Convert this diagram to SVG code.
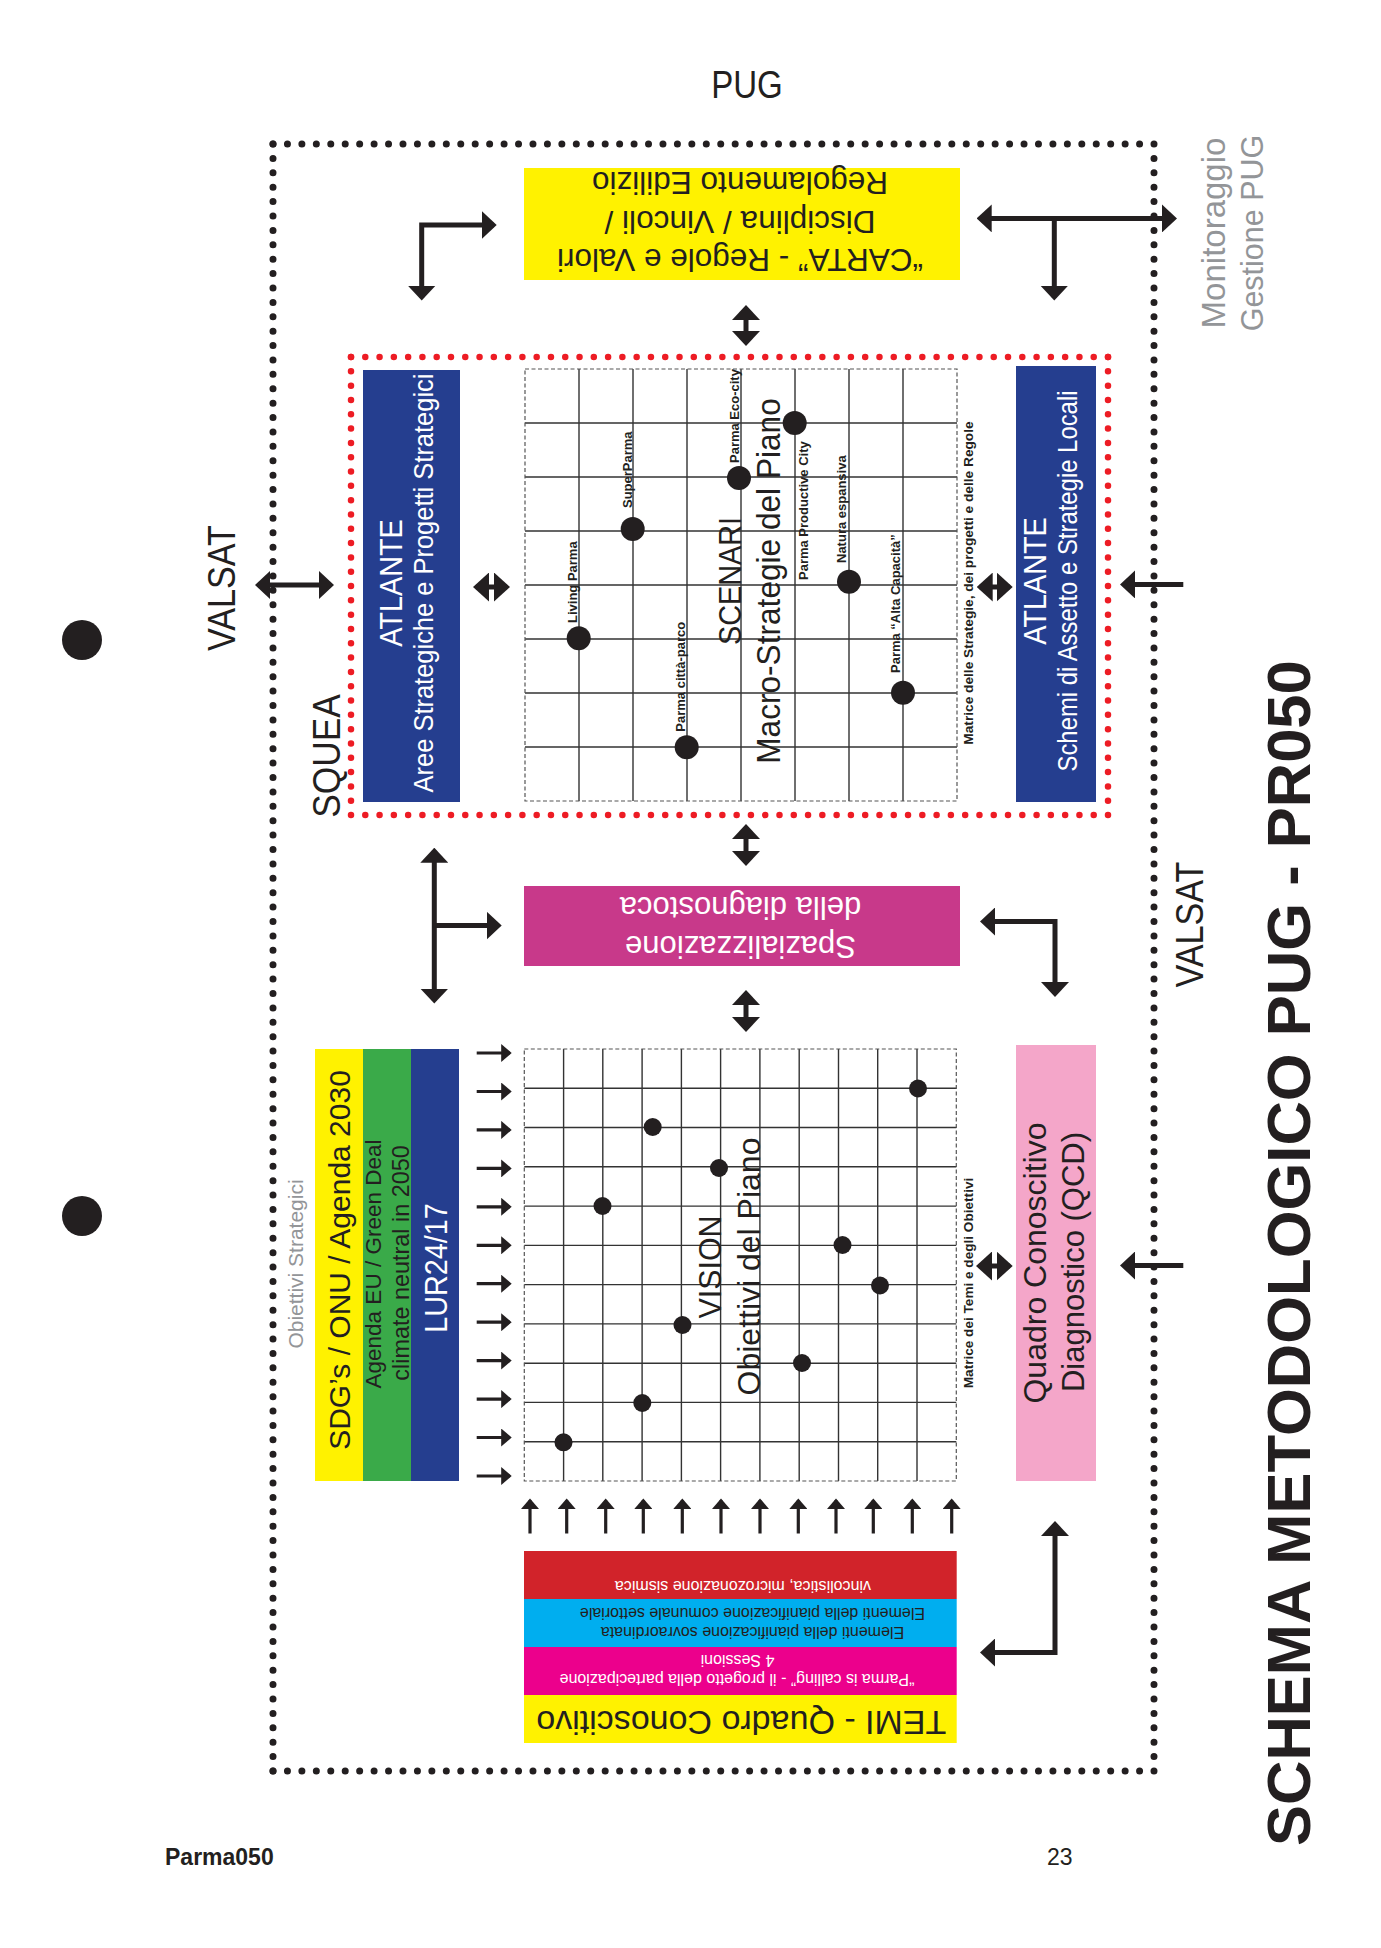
<svg xmlns="http://www.w3.org/2000/svg" width="1381" height="1948" viewBox="0 0 1381 1948">
<defs>
<style>
text{font-family:"Liberation Sans",Arial,Helvetica,sans-serif;}
.dk{fill:#231f20}
.wh{fill:#ffffff}
.gy{fill:#939598}
.b{font-weight:bold}
.m{text-anchor:middle}
.conn{fill:none;stroke:#231f20;stroke-width:5}
.sm{fill:none;stroke:#231f20;stroke-width:3.2}
.gl{fill:none;stroke:#333333;stroke-width:1.4}
.gf{fill:none;stroke:#555555;stroke-width:1.2;stroke-dasharray:4 2.5}
.bd{fill:none;stroke:#231f20;stroke-width:7;stroke-linecap:round}
.rd{fill:none;stroke:#ed1c24;stroke-width:6.5;stroke-linecap:round}
.dot{fill:#231f20}
</style>
<marker id="ah" viewBox="0 0 15 28" refX="12" refY="14" markerWidth="15" markerHeight="28" markerUnits="userSpaceOnUse" orient="auto-start-reverse"><path d="M0,0L15,14L0,28Z" fill="#231f20"/></marker>
<marker id="am" viewBox="0 0 16 29" refX="13" refY="14.5" markerWidth="16" markerHeight="29" markerUnits="userSpaceOnUse" orient="auto-start-reverse"><path d="M0,0L16,14.5L0,29Z" fill="#231f20"/></marker>
<marker id="as" viewBox="0 0 10.5 18" refX="8.5" refY="9" markerWidth="10.5" markerHeight="18" markerUnits="userSpaceOnUse" orient="auto"><path d="M0,0L10.5,9L0,18Z" fill="#231f20"/></marker>
</defs>
<rect x="0" y="0" width="1381" height="1948" fill="#ffffff"/>

<g id="title-pug"><text class="dk m" font-size="38" transform="translate(747 98) scale(0.87 1)">PUG</text></g>

<g id="frame-pug">
<path class="bd" d="M273,144H1154" stroke-dasharray="0 14.443"/>
<path class="bd" d="M1154,144V1771" stroke-dasharray="0 14.398"/>
<path class="bd" d="M273,1771H1154" stroke-dasharray="0 14.443"/>
<path class="bd" d="M273,144V1771" stroke-dasharray="0 14.398"/>
</g>

<g id="frame-squea">
<path class="rd" d="M351,357H1108" stroke-dasharray="0 14.283"/>
<path class="rd" d="M1108,357V815" stroke-dasharray="0 14.3125"/>
<path class="rd" d="M351,815H1108" stroke-dasharray="0 14.283"/>
<path class="rd" d="M351,357V815" stroke-dasharray="0 14.3125"/>
</g>

<g id="bullets">
<circle class="dot" cx="82" cy="640" r="20"/>
<circle class="dot" cx="82" cy="1216" r="20"/>
</g>

<g id="label-valsat-left"><text class="dk m" font-size="38" transform="translate(235 588) rotate(-90) scale(0.9 1)">VALSAT</text></g>
<g id="label-valsat-right"><text class="dk m" font-size="38" transform="translate(1203 924.5) rotate(-90) scale(0.9 1)">VALSAT</text></g>
<g id="label-squea"><text class="dk m" font-size="38" transform="translate(340 756) rotate(-90) scale(0.93 1)">SQUEA</text></g>
<g id="label-monitoraggio">
<text class="gy m" font-size="33" transform="translate(1225 233) rotate(-90)">Monitoraggio</text>
<text class="gy m" font-size="30.5" transform="translate(1263 233) rotate(-90)">Gestione PUG</text>
</g>

<g id="node-carta">
<rect x="524" y="168" width="436" height="112" fill="#fff200"/>
<text class="dk m" font-size="31.5" x="740" y="249" transform="rotate(180 740 249)">“CARTA” - Regole e Valori</text>
<text class="dk m" font-size="31.5" x="740" y="211" transform="rotate(180 740 211)">Disciplina / Vincoli /</text>
<text class="dk m" font-size="31.5" x="740" y="172" transform="rotate(180 740 172)">Regolamento Edilizio</text>
</g>

<g id="node-atlante-left">
<rect x="363" y="370" width="97" height="432" fill="#253e8f"/>
<text class="wh m" font-size="32" transform="translate(402 583) rotate(-90) scale(0.9 1)">ATLANTE</text>
<text class="wh m" font-size="28" transform="translate(433 583) rotate(-90) scale(0.91 1)">Aree Strategiche e Progetti Strategici</text>
</g>

<g id="node-atlante-right">
<rect x="1016" y="366" width="80" height="436" fill="#253e8f"/>
<text class="wh m" font-size="32" transform="translate(1046 581) rotate(-90) scale(0.9 1)">ATLANTE</text>
<text class="wh m" font-size="27" transform="translate(1077 581) rotate(-90) scale(0.885 1)">Schemi di Assetto e Strategie Locali</text>
</g>

<g id="node-scenari">
<rect x="525" y="369" width="432" height="432" fill="#ffffff"/>
<path class="gl" d="M579,369V801M633,369V801M687,369V801M741,369V801M795,369V801M849,369V801M903,369V801M525,423H957M525,477H957M525,531H957M525,585H957M525,639H957M525,693H957M525,747H957"/>
<rect class="gf" x="525" y="369" width="432" height="432"/>
<circle class="dot" cx="578.7" cy="638.3" r="12"/>
<circle class="dot" cx="632.7" cy="529" r="12"/>
<circle class="dot" cx="686.7" cy="747.3" r="12"/>
<circle class="dot" cx="739" cy="478" r="12"/>
<circle class="dot" cx="794.7" cy="423" r="12"/>
<circle class="dot" cx="849" cy="581.7" r="12"/>
<circle class="dot" cx="903" cy="692.7" r="12"/>
<text class="dk b" font-size="13" transform="translate(577 623) rotate(-90)">Living Parma</text>
<text class="dk b" font-size="13" transform="translate(631.5 508) rotate(-90)">SuperParma</text>
<text class="dk b" font-size="13" transform="translate(684.5 731.7) rotate(-90)">Parma città-parco</text>
<text class="dk b" font-size="13" transform="translate(739.3 463) rotate(-90)">Parma Eco-city</text>
<text class="dk b" font-size="13" transform="translate(807.5 580) rotate(-90)">Parma Productive City</text>
<text class="dk b" font-size="13" transform="translate(846 563) rotate(-90)">Natura espansiva</text>
<text class="dk b" font-size="13" transform="translate(900 673) rotate(-90)">Parma “Alta Capacità”</text>
<text class="dk m" font-size="31" transform="translate(740.5 581) rotate(-90) scale(0.93 1)">SCENARI</text>
<text class="dk m" font-size="34" transform="translate(780 581) rotate(-90) scale(0.93 1)">Macro-Strategie del Piano</text>
<text class="dk b m" font-size="13.7" transform="translate(972.5 583) rotate(-90)">Matrice delle Strategie, dei progetti e delle Regole</text>
</g>

<g id="node-spazializzazione">
<rect x="524" y="886" width="436" height="80" fill="#c8398a"/>
<text class="wh m" font-size="31" x="740.5" y="936" transform="rotate(180 740.5 936)">Spazializzazione</text>
<text class="wh m" font-size="31" x="740.5" y="897" transform="rotate(180 740.5 897)">della diagnostoca</text>
</g>

<g id="node-obiettivi-strategici">
<rect x="315" y="1049" width="48" height="432" fill="#fff200"/>
<rect x="363" y="1049" width="48" height="432" fill="#3aaa49"/>
<rect x="411" y="1049" width="48" height="432" fill="#253e8f"/>
<text class="gy m" font-size="21" transform="translate(303 1264) rotate(-90)">Obiettivi Strategici</text>
<text class="dk m" font-size="30" transform="translate(350 1260) rotate(-90)">SDG’s / ONU / Agenda 2030</text>
<text class="dk m" font-size="22.5" transform="translate(381 1264) rotate(-90)">Agenda EU / Green Deal</text>
<text class="dk m" font-size="23.4" transform="translate(409 1263) rotate(-90)">climate neutral in 2050</text>
<text class="wh m" font-size="32" transform="translate(446.5 1268) rotate(-90) scale(0.9 1)">LUR24/17</text>
</g>

<g id="node-vision">
<rect x="524.3" y="1049" width="432" height="432" fill="#ffffff"/>
<path class="gl" d="M563.6,1049V1481M602.8,1049V1481M642.1,1049V1481M681.4,1049V1481M720.6,1049V1481M759.9,1049V1481M799.2,1049V1481M838.5,1049V1481M877.7,1049V1481M917,1049V1481M524.3,1088.3H956.3M524.3,1127.5H956.3M524.3,1166.8H956.3M524.3,1206.1H956.3M524.3,1245.4H956.3M524.3,1284.6H956.3M524.3,1323.9H956.3M524.3,1363.2H956.3M524.3,1402.4H956.3M524.3,1441.7H956.3"/>
<rect class="gf" x="524.3" y="1049" width="432" height="432"/>
<circle class="dot" cx="652.7" cy="1127" r="9"/>
<circle class="dot" cx="719" cy="1168" r="9"/>
<circle class="dot" cx="602.5" cy="1206" r="9"/>
<circle class="dot" cx="842.5" cy="1245" r="9"/>
<circle class="dot" cx="880" cy="1285.5" r="9"/>
<circle class="dot" cx="918" cy="1088.5" r="9"/>
<circle class="dot" cx="682.5" cy="1325" r="9"/>
<circle class="dot" cx="802" cy="1363" r="9"/>
<circle class="dot" cx="642.3" cy="1403" r="9"/>
<circle class="dot" cx="563.5" cy="1442.3" r="9"/>
<text class="dk m" font-size="32" transform="translate(721 1267) rotate(-90) scale(0.95 1)">VISION</text>
<text class="dk m" font-size="32" transform="translate(760 1266.5) rotate(-90)">Obiettivi del Piano</text>
<text class="dk b m" font-size="13.6" transform="translate(972.5 1283) rotate(-90)">Matrice dei Temi e degli Obiettivi</text>
</g>

<g id="node-qcd">
<rect x="1016" y="1045" width="80" height="436" fill="#f4a6c9"/>
<text class="dk m" font-size="32" transform="translate(1046 1263) rotate(-90)">Quadro Conoscitivo</text>
<text class="dk m" font-size="31" transform="translate(1084 1262) rotate(-90)">Diagnostico (QCD)</text>
</g>

<g id="node-temi">
<rect x="524" y="1551" width="432.7" height="48" fill="#d1232a"/>
<rect x="524" y="1599" width="432.7" height="48" fill="#00aeef"/>
<rect x="524" y="1647" width="432.7" height="48" fill="#ec008c"/>
<rect x="524" y="1695" width="432.7" height="48" fill="#fff200"/>
<text class="wh m" font-size="16" x="743" y="1580.5" transform="rotate(180 743 1580.5)">vincolistica, microzonazione sismica</text>
<text class="dk m" font-size="16" x="752.5" y="1627" transform="rotate(180 752.5 1627)">Elementi della pianificazione sovraordinata</text>
<text class="dk m" font-size="16" x="752.5" y="1607.5" transform="rotate(180 752.5 1607.5)">Elementi della pianificazione comunale settoriale</text>
<text class="wh m" font-size="16" x="737" y="1674" transform="rotate(180 737 1674)">“Parma is calling” - il progetto della partecipazione</text>
<text class="wh m" font-size="16" x="737.5" y="1655" transform="rotate(180 737.5 1655)">4 Sessioni</text>
<text class="dk m" font-size="34" x="741.3" y="1710.5" transform="rotate(180 741.3 1710.5)">TEMI - Quadro Conoscitivo</text>
</g>

<g id="connectors">
<path class="conn" d="M421.7,297.5V225H493.7" marker-start="url(#ah)" marker-end="url(#ah)"/>
<path class="conn" d="M979.7,218.4H1174" marker-start="url(#ah)" marker-end="url(#ah)"/>
<path class="conn" d="M1054.3,218.4V297.5" marker-end="url(#ah)"/>
<path class="conn" d="M746,308V343" marker-start="url(#ah)" marker-end="url(#ah)"/>
<path class="conn" d="M258,585H331" marker-start="url(#ah)" marker-end="url(#ah)"/>
<path class="conn" d="M476,587H507" marker-start="url(#am)" marker-end="url(#am)"/>
<path class="conn" d="M979.7,587H1009.7" marker-start="url(#am)" marker-end="url(#am)"/>
<path class="conn" d="M1183.3,584.4H1123" marker-end="url(#ah)"/>
<path class="conn" d="M746,827V863" marker-start="url(#ah)" marker-end="url(#ah)"/>
<path class="conn" d="M434.3,850.7V1000.6" marker-start="url(#ah)" marker-end="url(#ah)"/>
<path class="conn" d="M434.3,925.6H498.7" marker-end="url(#ah)"/>
<path class="conn" d="M983,921.5H1055V994" marker-start="url(#ah)" marker-end="url(#ah)"/>
<path class="conn" d="M746,993V1029" marker-start="url(#ah)" marker-end="url(#ah)"/>
<path class="conn" d="M979,1266H1009.7" marker-start="url(#am)" marker-end="url(#am)"/>
<path class="conn" d="M1183.3,1265.5H1123" marker-end="url(#ah)"/>
<path class="conn" d="M983,1652.5H1055V1524" marker-start="url(#ah)" marker-end="url(#ah)"/>
<path class="sm" d="M476.7,1053H509.7" marker-end="url(#as)"/>
<path class="sm" d="M476.7,1091.5H509.7" marker-end="url(#as)"/>
<path class="sm" d="M476.7,1129.9H509.7" marker-end="url(#as)"/>
<path class="sm" d="M476.7,1168.4H509.7" marker-end="url(#as)"/>
<path class="sm" d="M476.7,1206.8H509.7" marker-end="url(#as)"/>
<path class="sm" d="M476.7,1245.3H509.7" marker-end="url(#as)"/>
<path class="sm" d="M476.7,1283.7H509.7" marker-end="url(#as)"/>
<path class="sm" d="M476.7,1322.2H509.7" marker-end="url(#as)"/>
<path class="sm" d="M476.7,1360.6H509.7" marker-end="url(#as)"/>
<path class="sm" d="M476.7,1399.1H509.7" marker-end="url(#as)"/>
<path class="sm" d="M476.7,1437.5H509.7" marker-end="url(#as)"/>
<path class="sm" d="M476.7,1476H509.7" marker-end="url(#as)"/>
<path class="sm" d="M530,1533.5V1500.4" marker-end="url(#as)"/>
<path class="sm" d="M566.7,1533.5V1500.4" marker-end="url(#as)"/>
<path class="sm" d="M605.7,1533.5V1500.4" marker-end="url(#as)"/>
<path class="sm" d="M643.3,1533.5V1500.4" marker-end="url(#as)"/>
<path class="sm" d="M682.3,1533.5V1500.4" marker-end="url(#as)"/>
<path class="sm" d="M721,1533.5V1500.4" marker-end="url(#as)"/>
<path class="sm" d="M760,1533.5V1500.4" marker-end="url(#as)"/>
<path class="sm" d="M798.3,1533.5V1500.4" marker-end="url(#as)"/>
<path class="sm" d="M836,1533.5V1500.4" marker-end="url(#as)"/>
<path class="sm" d="M873.3,1533.5V1500.4" marker-end="url(#as)"/>
<path class="sm" d="M912.3,1533.5V1500.4" marker-end="url(#as)"/>
<path class="sm" d="M951.7,1533.5V1500.4" marker-end="url(#as)"/>
</g>

<g id="title-schema"><text class="dk b" font-size="61.5" transform="translate(1310 1846) rotate(-90)">SCHEMA METODOLOGICO PUG - PR050</text></g>
<g id="footer">
<text class="dk b" font-size="23" x="165" y="1865">Parma050</text>
<text class="dk" font-size="23" x="1047" y="1865">23</text>
</g>
</svg>
